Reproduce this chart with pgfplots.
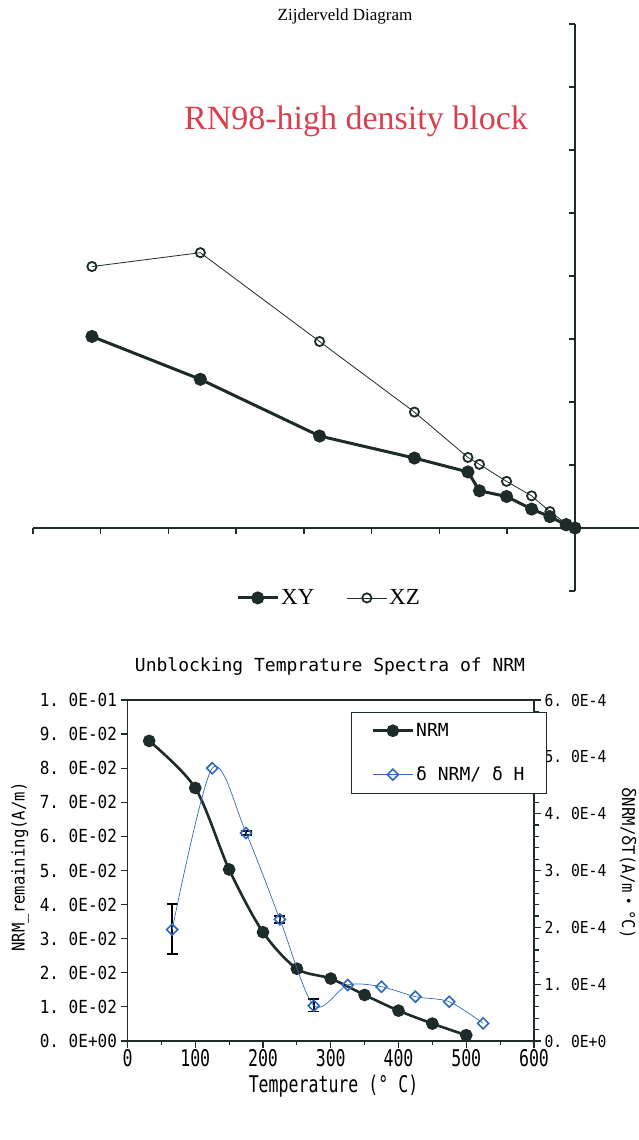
\documentclass[border=0pt]{standalone}
\usepackage{fontspec}
\setmainfont{Liberation Serif}
\newfontfamily\gA[FakeStretch=0.89]{DejaVu Sans Mono}
\newfontfamily\gB[FakeStretch=0.72]{DejaVu Sans Mono}
\newfontfamily\gC{DejaVu Sans Mono}
\newfontfamily\jp{Noto Sans CJK JP}
\usepackage{pgfplots}
\pgfplotsset{compat=1.18}
\definecolor{dk}{HTML}{1E2B2B}
\definecolor{bl}{HTML}{2E6BBF}
\definecolor{rd}{HTML}{D8404E}
\newcommand\fs[1]{\fontsize{#1pt}{#1pt}\selectfont}
\begin{document}
\begin{tikzpicture}
\useasboundingbox (0,0) rectangle (639pt,1140pt);
\node[font=\fs{17}] at (345pt,1124pt) {Zijderveld Diagram};
\node[font=\fs{34}, text=rd] at (356pt,1019pt) {RN98-high density block};

\begin{axis}[
 at={(33pt,549pt)}, anchor=south west, scale only axis, width=606pt, height=567pt,
 xmin=-8, xmax=0.945, ymin=-1, ymax=8,
 axis lines=middle, axis line style={-, line width=1.8pt, draw=dk},
 xtick={-8,-7,...,0}, ytick={-1,0,...,8}, xticklabels={}, yticklabels={},
 tick align=outside, major tick length=6pt,
 every tick/.append style={line width=1.5pt, dk},
 clip=false,
 legend columns=2,
 legend style={draw=none, fill=none, at={(axis cs:-3.63,-1.11)}, anchor=center, font=\fs{23},
   /tikz/every even column/.append style={column sep=30pt}},
 legend image code/.code={\draw[mark repeat=2, mark phase=2, #1] plot coordinates {(0pt,0pt) (20pt,0pt) (40pt,0pt)};},
]
\addplot[dk, line width=3pt, mark=*, mark size=5pt, mark options={fill=dk}] coordinates {
(-7.13,3.04) (-5.53,2.36) (-3.77,1.46) (-2.37,1.11) (-1.58,0.89) (-1.41,0.59) (-1.01,0.50) (-0.64,0.30) (-0.37,0.18) (-0.13,0.05) (0,0)};
\addlegendentry{XY}
\addplot[dk, line width=0.8pt, mark=o, mark size=4.6pt, mark options={fill=white, line width=1.8pt}] coordinates {
(-7.13,4.15) (-5.53,4.37) (-3.77,2.96) (-2.37,1.84) (-1.58,1.12) (-1.41,1.01) (-1.01,0.74) (-0.64,0.51) (-0.37,0.26) (-0.13,0.07) (0,0)};
\addlegendentry{XZ}
\end{axis}

\node[font=\gC\fs{18}] at (330pt,473pt) {Unblocking Temprature Spectra of NRM};
\node[font=\gA\fs{17.5}, rotate=90] at (20pt,273pt) {NRM\_remaining(A/m)};
\node[font=\gA\fs{17.5}, rotate=-90] at (628pt,277pt) {{\jp δ}NRM/{\jp δ}T(A/m{\jp ・}°C)};
\node[font=\gB\fs{23}] at (333.5pt,54pt) {Temperature (° C)};

\begin{axis}[
 at={(127.5pt,99pt)}, anchor=south west, scale only axis, width=406.5pt, height=341pt,
 xmin=0, xmax=600, ymin=0, ymax=0.1,
 axis line style={line width=1.6pt, draw=dk},
 xtick={0,100,200,300,400,500,600}, xticklabels={0,100,200,300,400,500,600}, minor x tick num=1,
 ytick={0,0.01,0.02,0.03,0.04,0.05,0.06,0.07,0.08,0.09,0.1},
 yticklabels={0.\ 0E+00,1.\ 0E-02,2.\ 0E-02,3.\ 0E-02,4.\ 0E-02,5.\ 0E-02,6.\ 0E-02,7.\ 0E-02,8.\ 0E-02,9.\ 0E-02,1.\ 0E-01},
 xtick pos=bottom, ytick pos=left,
 tick align=outside, major tick length=7pt, minor tick length=4pt,
 every tick/.append style={line width=1.2pt, dk},
 xticklabel style={font=\gB\fs{23}, yshift=2pt},
 yticklabel style={font=\gA\fs{18}},
]
\addplot[dk, line width=2.6pt, smooth, mark=*, mark size=5pt, mark options={fill=dk}] coordinates {
(32,0.0880) (100,0.0742) (150,0.0503) (200,0.0319) (250,0.0212) (300,0.0183) (350,0.0135) (400,0.0089) (450,0.0051) (500,0.0017)};
\end{axis}

\begin{axis}[
 at={(127.5pt,99pt)}, anchor=south west, scale only axis, width=406.5pt, height=341pt,
 xmin=0, xmax=600, ymin=0, ymax=6,
 axis x line=none, axis y line*=right,
 axis line style={-, line width=1.6pt, draw=dk},
 ytick={0,1,2,3,4,5,6},
 yticklabels={0.\ 0E+0,1.\ 0E-4,2.\ 0E-4,3.\ 0E-4,4.\ 0E-4,5.\ 0E-4,6.\ 0E-4},
 minor y tick num=4,
 tick align=outside, major tick length=7pt, minor tick length=5pt,
 every tick/.append style={line width=1.2pt, dk},
 yticklabel style={font=\gA\fs{16.5}},
 legend cell align=left,
 legend style={at={(rel axis cs:0.55,0.965)}, anchor=north west, draw=dk, line width=1pt, fill=white,
   font=\gC\fs{18}, inner xsep=20pt, inner ysep=9pt, row sep=25pt},
 legend image code/.code={\draw[mark repeat=2, mark phase=2, #1] plot coordinates {(0pt,0pt) (20pt,0pt) (40pt,0pt)};},
]
\addlegendimage{dk, line width=2.6pt, mark=*, mark size=5pt, mark options={fill=dk}}
\addlegendentry{NRM}
\addplot[forget plot, draw=none, mark=none, error bars/.cd, y dir=both, y explicit,
  error bar style={line width=1.6pt, draw=black, solid},
  error mark options={rotate=90, mark size=5.5pt, line width=1.6pt, draw=black}] coordinates {
(66,1.96) += (0,0.45) -= (0,0.43)
(175,3.66) += (0,0.04) -= (0,0.04)
(225,2.14) += (0,0.06) -= (0,0.06)
(275,0.62) += (0,0.12) -= (0,0.10)};
\addplot[bl, line width=0.7pt, smooth, mark=square, mark size=3.9pt, mark options={rotate=45, fill=white, draw=bl, line width=1.6pt, solid}] coordinates {
(66,1.96) (125,4.80) (175,3.66) (225,2.14) (275,0.62) (325,0.985) (375,0.955) (425,0.78) (475,0.69) (525,0.31)};
\addlegendentry{δ NRM/ δ H}
\end{axis}
\end{tikzpicture}
\end{document}
